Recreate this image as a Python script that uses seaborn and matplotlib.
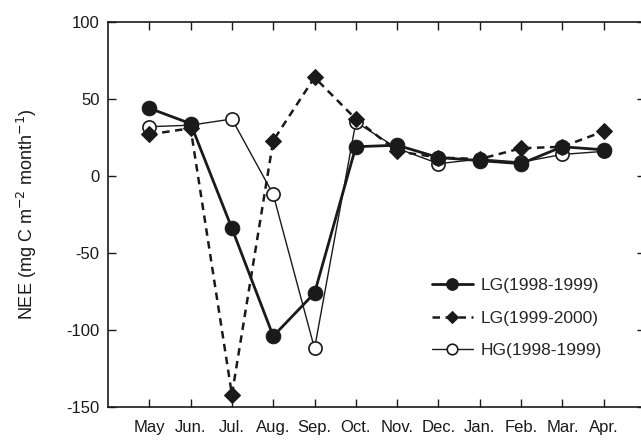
import matplotlib
matplotlib.use("Agg")
import matplotlib.pyplot as plt
import seaborn as sns
import numpy as np

months = ["May", "Jun.", "Jul.", "Aug.", "Sep.", "Oct.", "Nov.", "Dec.", "Jan.", "Feb.", "Mar.", "Apr."]
lg_9899 = [44, 34, -34, -104, -76, 19, 20, 12, 10, 8, 19, 17]
lg_9900 = [27, 31, -142, 23, 64, 37, 16, 12, 11, 18, 19, 29]
hg_9899 = [32, 33, 37, -12, -112, 35, 18, 8, 11, 9, 14, 16]
yticks = [-150, -100, -50, 0, 50, 100]

sns.set_style("ticks")
plt.rcParams["font.family"] = ["Liberation Sans", "DejaVu Sans"]

fig = plt.figure(figsize=(6.41, 4.40), dpi=100)
W, H = 641, 440
left, right, top, bottom = 108, 645, 22, 407
ax = fig.add_axes([left / W, 1 - bottom / H, (right - left) / W, (bottom - top) / H])

x = np.arange(len(months))
ink = "#1a1a1a"

sns.lineplot(x=x, y=hg_9899, ax=ax, color=ink, linewidth=1.0, marker="o", markersize=9.5,
             markerfacecolor="white", markeredgecolor=ink, markeredgewidth=1.2,
             label="HG(1998-1999)", zorder=3)
sns.lineplot(x=x, y=lg_9900, ax=ax, color=ink, linewidth=1.8, linestyle=(0, (3.0, 2.2)), marker="D",
             markersize=8, markerfacecolor=ink, markeredgecolor=ink,
             label="LG(1999-2000)", zorder=4)
sns.lineplot(x=x, y=lg_9899, ax=ax, color=ink, linewidth=2.0, marker="o", markersize=10.5,
             markerfacecolor=ink, markeredgecolor=ink,
             label="LG(1998-1999)", zorder=5)

ax.set_xlim(-1, 12)
ax.set_ylim(-150, 100)
ax.set_xticks(x)
ax.set_xticklabels(months)
ax.set_yticks(yticks)
ax.set_yticklabels([str(v) for v in yticks])
ax.tick_params(axis="both", direction="in", length=6, width=1.0, color=ink,
               labelcolor=ink, top=True, right=True)
ax.tick_params(axis="y", labelsize=12, pad=6)
ax.tick_params(axis="x", labelsize=12, pad=9)
for s in ax.spines.values():
    s.set_visible(True)
    s.set_color(ink)
    s.set_linewidth(1.2)
ax.set_xlabel("")
ax.set_ylabel(r"NEE (mg C m$^{-2}$ month$^{-1}$)", fontsize=13, color=ink, labelpad=20)

handles, labels = ax.get_legend_handles_labels()
order = [2, 1, 0]
ax.legend([handles[i] for i in order], [labels[i] for i in order], frameon=False,
          loc="upper left", bbox_to_anchor=((425 - left) / (right - left), 1 - (271 - top) / (bottom - top)),
          fontsize=12.5, handlelength=2.36, handletextpad=0.45, labelspacing=1.0,
          borderaxespad=0, markerscale=0.8)

fig.savefig("out.png", dpi=100)
